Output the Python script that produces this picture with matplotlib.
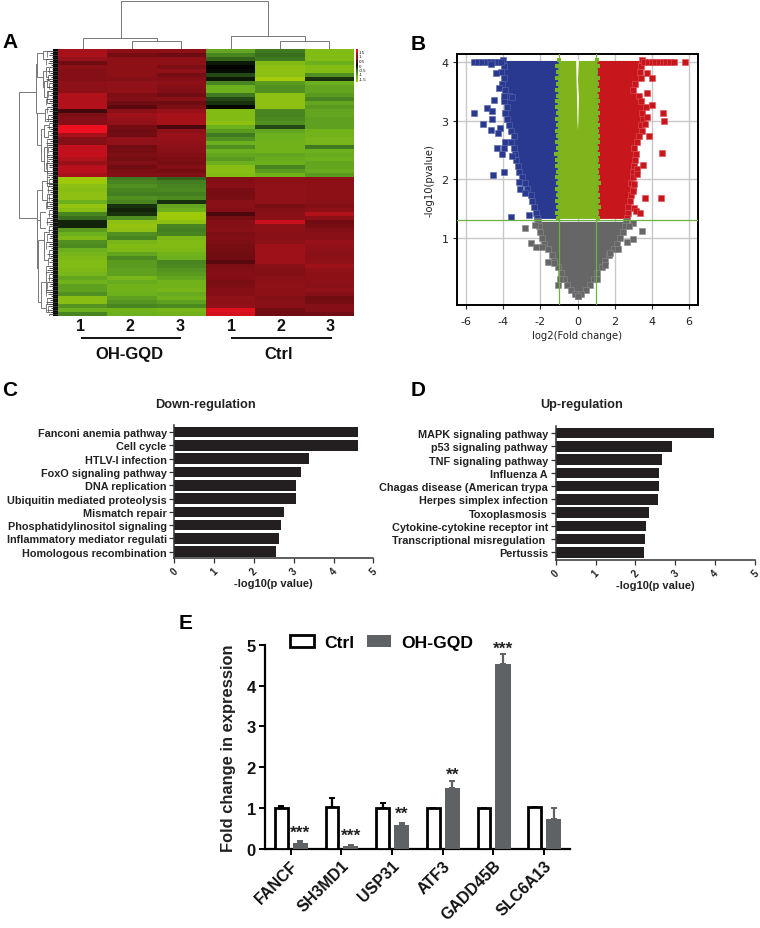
import numpy as np
import matplotlib
matplotlib.use('Agg')
import matplotlib.pyplot as plt
from matplotlib.colors import LinearSegmentedColormap
from matplotlib.patches import Patch

W, H = 760, 929
plt.rcParams['font.family'] = ['Liberation Sans', 'DejaVu Sans']

# heatmap, one row per band, columns OH-GQD 1-3 then Ctrl 1-3
heat_rows = [
    [1.1, 0.9, 0.9, -0.9, -0.5, -1.2], [1.1, 0.6, 0.5, -0.6, -0.45, -1.2],
    [1.0, 0.9, 0.9, -0.4, -0.5, -1.2], [0.5, 0.9, 0.9, -0.1, -1.2, -1.0],
    [0.9, 0.9, 0.7, -0.02, -1.3, -1.2], [0.8, 0.9, 0.95, -0.05, -1.3, -1.2],
    [0.8, 0.9, 0.6, -0.3, -1.3, -0.7], [0.8, 0.8, 0.8, -0.1, -1.5, -0.2],
    [0.9, 0.95, 0.9, -0.6, -0.8, -1.0], [0.9, 0.95, 0.8, -1.0, -0.7, -0.9],
    [0.9, 0.95, 0.75, -1.0, -0.7, -0.9], [1.15, 0.7, 0.55, -0.5, -1.3, -0.8],
    [1.15, 0.8, 0.85, -0.3, -1.3, -0.6], [1.15, 0.55, 0.5, -0.2, -1.3, -0.9],
    [1.15, 0.4, 0.7, -0.03, -1.3, -0.8], [0.3, 0.9, 1.0, -1.2, -0.6, -0.9],
    [0.7, 1.05, 1.1, -1.2, -0.6, -0.9], [0.8, 1.0, 1.1, -1.2, -0.65, -0.85],
    [0.8, 0.95, 1.1, -1.3, -0.7, -0.85], [1.5, 0.6, 0.35, -1.0, -0.3, -0.85],
    [1.5, 0.5, 0.9, -0.8, -0.9, -1.05], [1.1, 0.55, 1.0, -0.5, -1.0, -1.05],
    [0.8, 0.95, 1.0, -0.7, -1.0, -1.1], [0.8, 0.95, 0.95, -1.0, -1.05, -1.1],
    [1.25, 0.55, 0.9, -0.7, -1.05, -0.5], [1.25, 0.6, 0.85, -1.0, -1.05, -1.0],
    [1.25, 0.7, 0.75, -0.9, -0.9, -0.95], [1.15, 0.6, 0.7, -0.8, -0.95, -1.0],
    [1.0, 0.75, 0.65, -1.0, -1.0, -0.9], [1.2, 0.55, 0.8, -1.25, -0.6, -0.9],
    [1.2, 0.7, 0.6, -1.25, -0.8, -0.95], [1.1, 0.75, 0.75, -1.2, -1.05, -0.8],
    [-1.45, -0.5, -0.4, 0.75, 0.9, 0.9], [-1.45, -0.6, -0.55, 0.8, 0.9, 0.9],
    [-1.3, -0.7, -0.6, 0.85, 0.95, 0.9], [-1.25, -0.6, -0.65, 0.65, 0.95, 0.9],
    [-1.3, -0.55, -0.55, 0.6, 0.95, 0.9], [-1.3, -0.7, -0.65, 0.65, 0.95, 0.9],
    [-1.0, -0.6, -0.2, 0.85, 0.95, 0.85], [-1.35, -0.2, -0.9, 0.85, 0.65, 0.75],
    [-1.25, -0.15, -1.0, 0.8, 0.8, 0.9], [-0.6, -0.2, -1.45, 0.35, 0.85, 1.15],
    [-0.45, -0.7, -1.45, 0.6, 0.9, 0.9], [-0.15, -1.3, -1.3, 0.8, 1.3, 0.55],
    [-0.15, -1.35, -0.6, 0.8, 0.9, 0.65], [-0.8, -1.3, -0.55, 0.85, 0.9, 0.8],
    [-1.0, -0.7, -0.6, 0.7, 0.85, 0.85], [-1.15, -0.6, -1.15, 0.75, 0.85, 0.85],
    [-0.7, -1.1, -1.2, 0.7, 0.9, 1.0], [-0.65, -1.2, -1.2, 0.6, 1.05, 0.95],
    [-1.0, -1.15, -1.15, 0.6, 1.05, 0.9], [-1.1, -0.9, -1.05, 0.55, 1.05, 0.85],
    [-1.15, -0.65, -1.0, 0.55, 1.05, 0.9], [-1.2, -0.8, -0.6, 0.4, 1.05, 0.95],
    [-1.2, -0.8, -0.65, 0.7, 0.85, 1.05], [-1.15, -0.85, -0.75, 0.75, 0.8, 0.95],
    [-1.1, -0.85, -0.8, 0.8, 0.75, 0.9], [-0.9, -1.1, -0.9, 0.75, 0.85, 0.9],
    [-1.05, -0.95, -1.05, 0.65, 0.9, 0.9], [-0.85, -1.05, -1.05, 0.7, 0.95, 0.85],
    [-0.85, -1.05, -1.1, 0.8, 0.9, 0.95], [-0.7, -1.0, -0.95, 0.8, 0.9, 0.8],
    [-1.25, -0.85, -1.05, 0.95, 0.8, 0.55], [-1.25, -0.75, -0.85, 0.9, 0.85, 0.6],
    [-0.75, -0.6, -0.65, 0.95, 0.85, 0.8], [-1.0, -1.05, -1.1, 1.4, 0.55, 0.8],
    [-0.6, -1.0, -1.05, 1.35, 0.5, 0.55],
]
heat_scale = [1.5, 1, 0.5, 0, -0.5, -1, -1.5]

# dendrograms: (pos a, pos b, height, height of a, height of b)
top_merges = [
    (1.5, 2.5, 8.3, 0, 0), (0.5, 2.0, 11, 0, 8.3),
    (4.5, 5.5, 8.3, 0, 0), (3.5, 5.0, 12.7, 0, 8.3),
    (1.27, 4.26, 48, 11, 12.7),
]
left_merges = [
    (10.7, 42.5, 38.7, 22.3, 21.3), (3.8, 16, 22.3, 21, 21.5), (1.0, 7.0, 21, 15, 15),
    (0.5, 2.5, 15, 11, 11), (5.5, 9.5, 15, 12, 14), (4.5, 7, 12, 10, 10), (8, 12, 14, 11, 11),
    (7.8, 9.5, 11, 9, 9), (10.5, 13.5, 11, 9, 9), (16, 24, 21.5, 13, 17), (15, 18, 13, 10, 10),
    (20, 28, 17, 14, 14), (19, 22, 14, 10, 10), (24.5, 30.5, 14, 11, 11), (24, 27, 11, 9, 9),
    (28, 31, 11, 9, 9), (35.5, 48, 21.3, 16, 21), (33, 38, 16, 11, 11), (32, 34.5, 11, 9, 9),
    (36.5, 40, 11, 9, 9), (43, 55, 21, 18, 20), (41, 45, 18, 13, 13), (48, 63.5, 20, 14, 17),
    (46, 53, 14, 10, 10), (58.5, 65, 17, 12, 12), (56, 61, 12, 9, 9), (64, 66, 12, 9, 9),
]
leaf_heights = [11, 9, 12, 10, 9, 11, 10, 12, 9, 11, 10, 9, 12, 10, 11, 9, 10, 12, 9, 11, 10, 9, 11, 12, 10, 9, 11, 10, 12, 9, 11, 10,
                9, 12, 10, 11, 9, 10, 12, 11, 9, 10, 11, 12, 9, 10, 11, 9, 12, 10, 9, 11, 10, 9, 12, 11, 9, 10, 11, 9, 12, 10, 11, 12, 10, 11, 9]

# volcano: outline of the dense clouds and the stray points
cloud_y = [4.03, 3.93, 3.83, 3.73, 3.63, 3.53, 3.43, 3.33, 3.23, 3.13, 3.03, 2.93, 2.83, 2.73,
           2.63, 2.53, 2.43, 2.33, 2.23, 2.13, 2.03, 1.93, 1.83, 1.73, 1.63, 1.53, 1.43, 1.33]
blue_left = [-4.0, -3.95, -4.1, -3.95, -4.05, -3.9, -3.7, -3.95, -3.8, -3.9, -3.8, -3.7, -3.6, -3.45,
             -3.6, -3.4, -3.35, -3.3, -3.2, -3.15, -3.0, -2.85, -2.75, -2.5, -2.45, -2.35, -2.25, -2.2]
red_right = [3.5, 3.4, 3.35, 3.45, 3.1, 3.0, 3.3, 3.4, 3.7, 3.5, 3.55, 3.4, 3.5, 3.3,
             3.2, 3.05, 3.15, 3.1, 3.05, 3.0, 3.0, 2.9, 3.0, 2.9, 2.85, 2.75, 2.7, 2.65]
green_left = [-1.02, -1.08, -1.03, -1.1, -1.04, -1.1, -1.03, -1.08, -1.12, -1.04, -1.1, -1.05, -1.12, -1.06,
              -1.1, -1.05, -1.14, -1.08, -1.13, -1.05, -1.1, -1.06, -1.12, -1.07, -1.1, -1.05, -1.1, -1.06]
green_right = [1.03, 1.08, 1.02, 1.1, 1.05, 1.08, 1.03, 1.1, 1.06, 1.12, 1.04, 1.1, 1.05, 1.12,
               1.08, 1.04, 1.1, 1.06, 1.12, 1.05, 1.1, 1.14, 1.06, 1.12, 1.08, 1.14, 1.06, 1.12]
grey_y = [1.28, 1.2, 1.1, 1.0, 0.9, 0.8, 0.7, 0.6, 0.5, 0.4, 0.3, 0.2, 0.1, 0.03, 0.0]
grey_left = [-2.15, -2.1, -2.0, -1.9, -1.8, -1.6, -1.4, -1.25, -1.05, -0.9, -0.75, -0.55, -0.35, -0.15, 0.0]
grey_right = [2.6, 2.55, 2.45, 2.3, 2.15, 1.95, 1.7, 1.5, 1.3, 1.05, 0.9, 0.7, 0.45, 0.2, 0.0]
gap_y = [4.05, 3.7, 3.4, 3.0, 2.85]
gap_left = [-0.1, -0.08, -0.05, -0.03, 0.0]
gap_right = [0.05, 0.0, 0.05, 0.02, 0.0]
blue_x_pts = [-5.57, -5.39, -5.15, -4.9, -4.7, -4.5, -4.3, -4.1, -4.67, -4.38, -4.25, -4.49, -5.58, -4.88, -4.6, -4.6,
              -5.08, -4.65, -4.17, -4.29, -3.93, -4.34, -3.95, -4.06, -3.55, -4.54, -3.95, -3.16, -3.09, -2.82, -3.59,
              -2.59, -3.99, -3.54]
blue_y_pts = [4.0, 4.0, 4.0, 4.0, 4.0, 4.0, 4.0, 4.0, 3.97, 3.81, 3.56, 3.36, 3.14, 3.21, 3.16, 3.03,
              2.94, 2.84, 2.87, 2.79, 2.64, 2.53, 2.53, 2.43, 2.40, 2.07, 2.12, 1.96, 1.84, 1.77, 1.35,
              1.39, 3.43, 3.40]
red_x_pts = [3.6, 3.8, 4.0, 4.2, 4.4, 4.6, 4.8, 5.0, 5.2, 5.82, 3.73, 4.04, 3.73, 4.04, 4.6, 3.73, 4.65, 3.64, 3.88,
             4.54, 3.52, 3.23, 3.2, 3.07, 2.98, 3.64, 4.49, 3.07, 3.16, 3.39]
red_y_pts = [4.0, 4.0, 4.0, 4.0, 4.0, 4.0, 4.0, 4.0, 4.0, 4.0, 3.81, 3.73, 3.47, 3.27, 3.14, 3.06, 3.0, 2.95, 2.74,
             2.45, 2.25, 2.18, 2.09, 1.91, 1.79, 1.68, 1.68, 1.51, 1.46, 1.43]
grey_x_pts = [-2.82, -2.3, -2.51, -2.23, -1.92, -1.6, -1.29, 3.46, 3.02, 2.78, 2.98, 2.66, 2.2, 1.76, 1.49, -1.06, -0.97, 1.04]
grey_y_pts = [1.16, 1.21, 0.91, 0.84, 0.84, 0.58, 0.56, 1.11, 1.25, 1.2, 0.97, 0.92, 0.81, 0.74, 0.53, 0.2, 0.3, 0.3]

# pathway enrichment
down_terms = ['Fanconi anemia pathway', 'Cell cycle', 'HTLV-I infection', 'FoxO signaling pathway', 'DNA replication',
              'Ubiquitin mediated proteolysis', 'Mismatch repair', 'Phosphatidylinositol signaling',
              'Inflammatory mediator regulati', 'Homologous recombination']
down_vals = [4.62, 4.61, 3.39, 3.19, 3.07, 3.05, 2.76, 2.67, 2.62, 2.55]
up_terms = ['MAPK signaling pathway', 'p53 signaling pathway', 'TNF signaling pathway', 'Influenza A',
            'Chagas disease (American trypa', 'Herpes simplex infection', 'Toxoplasmosis',
            'Cytokine-cytokine receptor int', 'Transcriptional misregulation ', 'Pertussis']
up_vals = [3.96, 2.93, 2.66, 2.60, 2.58, 2.575, 2.34, 2.26, 2.23, 2.21]

# qPCR
genes = ['FANCF', 'SH3MD1', 'USP31', 'ATF3', 'GADD45B', 'SLC6A13']
ctrl_vals = [1.0, 1.02, 1.0, 1.0, 1.0, 1.02]
ctrl_err = [0.04, 0.23, 0.12, 0.0, 0.0, 0.0]
gqd_vals = [0.15, 0.07, 0.58, 1.5, 4.53, 0.72]
gqd_err = [0.03, 0.01, 0.06, 0.17, 0.24, 0.28]
stars = ['***', '***', '**', '**', '***', '']
star_y = [0.3, 0.23, 0.75, 1.72, 4.82, 0]


def axes_px(x0, y0, x1, y1):
    return fig.add_axes([x0 / W, 1 - y1 / H, (x1 - x0) / W, (y1 - y0) / H])


def text_px(x, y, s, **kw):
    kw.setdefault('ha', 'center')
    kw.setdefault('va', 'center')
    kw.setdefault('fontweight', 'bold')
    kw.setdefault('color', '#111111')
    fig.text(x / W, 1 - y / H, s, **kw)


def draw_merges(ax, merges, flip=False):
    for a, b, h, ha, hb in merges:
        xs, ys = [a, a, b, b], [ha, h, h, hb]
        if flip:
            xs, ys = ys, xs
        ax.plot(xs, ys, color='#777777', lw=0.7, solid_joinstyle='miter')


def pathway_panel(box, terms, vals, title, title_x, row_bottom):
    ax = axes_px(*box)
    ax.barh(range(len(vals)), vals, height=0.79, color='#231f20')
    ax.set_xlim(0, 5)
    ax.set_ylim(row_bottom, -0.53)
    ax.set_yticks(range(len(terms)))
    ax.set_yticklabels(terms, fontsize=7.8, fontweight='bold', color='#222222')
    ax.set_xticks(range(6))
    ax.set_xticklabels(range(6), rotation=45, fontsize=7, fontweight='bold', color='#222222')
    ax.set_xlabel('-log10(p value)', fontsize=8, fontweight='bold', color='#222222', labelpad=1)
    ax.tick_params(length=3.5, width=0.9, pad=2, color='#333333')
    for s in ['top', 'right']:
        ax.spines[s].set_visible(False)
    for s in ['left', 'bottom']:
        ax.spines[s].set_linewidth(1.1)
        ax.spines[s].set_color('#333333')
    text_px(title_x, 405.5, title, fontsize=9.2, color='#222222')
    return ax


fig = plt.figure(figsize=(W / 100, H / 100), dpi=100)

# A
heat_cmap = LinearSegmentedColormap.from_list('heat', [
    (0.0, '#a4cc0a'), (1 / 6, '#6cb01e'), (2 / 6, '#3f7a22'), (0.5, '#000000'),
    (4 / 6, '#6e0c12'), (5 / 6, '#951219'), (1.0, '#ee1020')])
ax = axes_px(58, 50, 354, 317)
ax.imshow(np.array(heat_rows), cmap=heat_cmap, vmin=-1.5, vmax=1.5, aspect='auto', interpolation='nearest')
ax.axis('off')

ax = axes_px(58, 2, 354, 50)
draw_merges(ax, top_merges)
ax.set_xlim(0, 6)
ax.set_ylim(0, 48)
ax.axis('off')

ax = axes_px(15, 50, 58, 317)
draw_merges(ax, left_merges, flip=True)
rows = np.arange(len(leaf_heights)) + 0.5
ax.hlines(rows, 0, leaf_heights, color='#444444', lw=0.6)
ax.hlines(rows + 0.5, 0, np.array(leaf_heights) - 3, color='#222222', lw=0.6)
ax.vlines(leaf_heights[::2], rows[::2], rows[::2] + 1.6, color='#555555', lw=0.5)
ax.axvspan(0, 5, color='black', lw=0)
ax.set_xlim(43, 0)
ax.set_ylim(len(leaf_heights), 0)
ax.axis('off')

ax = axes_px(355.7, 50, 357.7, 83)
ax.imshow(np.linspace(1.5, -1.5, 64).reshape(-1, 1), cmap=heat_cmap, aspect='auto', vmin=-1.5, vmax=1.5)
ax.axis('off')
for i, v in enumerate(heat_scale):
    text_px(359, 53 + i * 4.5, str(v), fontsize=3.2, ha='left', fontweight='normal')

for cx, lab in zip([80.5, 130, 180, 231.5, 281, 330], ['1', '2', '3', '1', '2', '3']):
    text_px(cx, 327, lab, fontsize=11.5)
for x0, x1, cx, lab in [(81.7, 180, 129, 'OH-GQD'), (232, 330.7, 279, 'Ctrl')]:
    fig.add_artist(plt.Line2D([x0 / W, x1 / W], [1 - 338.7 / H] * 2, color='#111111', lw=1.4))
    text_px(cx, 354.5, lab, fontsize=12)

# B
ax = axes_px(457, 55, 698, 306)
ax.set_xlim(-6.5, 6.5)
ax.set_ylim(-0.15, 4.14)
ax.grid(color='#c8c8c8', lw=1)
ax.set_axisbelow(True)
blue, green, red, grey = '#2a3990', '#7fb51a', '#c8161d', '#666666'
ax.fill_betweenx(cloud_y, blue_left, -1, color=blue, lw=0, zorder=2)
ax.fill_betweenx(cloud_y, 1, red_right, color=red, lw=0, zorder=2)
ax.fill_betweenx(grey_y, grey_left, grey_right, color=grey, lw=0, zorder=2)
ax.scatter(blue_left, cloud_y, s=16, marker='s', color=blue, edgecolors='#5a66aa', lw=0.4, zorder=3)
ax.scatter(red_right, cloud_y, s=16, marker='s', color=red, edgecolors='#dd5058', lw=0.4, zorder=3)
ax.scatter(grey_left, grey_y, s=14, marker='s', color=grey, edgecolors='#8a8a8a', lw=0.4, zorder=3)
ax.scatter(grey_right, grey_y, s=14, marker='s', color=grey, edgecolors='#8a8a8a', lw=0.4, zorder=3)
ax.fill_betweenx(cloud_y, green_left, green_right, color=green, lw=0, zorder=3)
ax.scatter(green_left, cloud_y, s=12, marker='s', color=green, lw=0, zorder=3)
ax.scatter(green_right, cloud_y, s=12, marker='s', color=green, lw=0, zorder=3)
ax.fill_betweenx(gap_y, gap_left, gap_right, color='white', lw=0, zorder=4)
ax.scatter(blue_x_pts, blue_y_pts, s=16, marker='s', color=blue, edgecolors='#5a66aa', lw=0.4, zorder=3)
ax.scatter(red_x_pts, red_y_pts, s=16, marker='s', color=red, edgecolors='#dd5058', lw=0.4, zorder=3)
ax.scatter(grey_x_pts, grey_y_pts, s=14, marker='s', color=grey, edgecolors='#8a8a8a', lw=0.4, zorder=3)
ax.axhline(1.3, color='#6db33f', lw=0.9, zorder=5)
ax.axvline(-1, color='#6db33f', lw=0.9, zorder=5)
ax.axvline(1, color='#6db33f', lw=0.9, zorder=5)
ax.set_xticks([-6, -4, -2, 0, 2, 4, 6])
ax.set_xticklabels(['-6', '-4', '-2', '0', '2', '4', '6'], family='DejaVu Sans')
ax.set_yticks([1, 2, 3, 4])
ax.set_yticklabels(['1', '2', '3', '4'], family='DejaVu Sans')
ax.tick_params(labelsize=8, length=3, width=0.8, color='#222222', labelcolor='#222222')
ax.tick_params(axis='x', pad=5)
ax.tick_params(axis='y', pad=3)
ax.set_xlabel('log2(Fold change)', fontsize=7.2, family='DejaVu Sans', color='#222222', labelpad=3)
ax.set_ylabel('-log10(pvalue)', fontsize=7.2, family='DejaVu Sans', color='#222222', labelpad=5)
for s in ax.spines.values():
    s.set_linewidth(1.4)

# C, D
pathway_panel((174.3, 426, 373.3, 559), down_terms, down_vals, 'Down-regulation', 205, 9.47)
pathway_panel((555.7, 427, 755, 561), up_terms, up_vals, 'Up-regulation', 582, 9.57)

# E
ax = axes_px(265, 646, 570, 849.7)
xpos = np.arange(len(genes))
off, bw = 0.187, 0.25
ax.bar(xpos - off, ctrl_vals, bw, color='white', edgecolor='black', lw=2.0, zorder=3)
ax.bar(xpos + off, gqd_vals, bw + 0.05, color='#5f6264', zorder=3)
ax.errorbar(xpos - off, ctrl_vals, yerr=[np.zeros(6), ctrl_err], fmt='none', ecolor='black', elinewidth=1.6, capsize=2.5, capthick=1.4, zorder=2)
ax.errorbar(xpos + off, gqd_vals, yerr=[np.zeros(6), gqd_err], fmt='none', ecolor='#5f6264', elinewidth=1.6, capsize=2.5, capthick=1.4, zorder=2)
for x, y, s in zip(xpos + off, star_y, stars):
    ax.text(x, y, s, ha='center', va='baseline', fontsize=12.5, fontweight='bold', color='#222222', clip_on=False)
ax.set_xlim(-0.507, 5.51)
ax.set_ylim(0, 5)
ax.set_xticks(xpos)
ax.set_xticklabels(genes, rotation=45, ha='right', rotation_mode='anchor', fontsize=11.5, fontweight='bold', color='#111111')
ax.set_yticks(range(6))
ax.set_yticklabels(range(6), fontsize=12, fontweight='bold', color='#111111')
ax.set_ylabel('Fold change in expression', fontsize=11.9, fontweight='bold', color='#222222', labelpad=8)
ax.tick_params(length=4.5, width=1.4, pad=2)
for s in ['top', 'right']:
    ax.spines[s].set_visible(False)
for s in ['left', 'bottom']:
    ax.spines[s].set_linewidth(1.6)
handles = [Patch(facecolor='white', edgecolor='black', lw=2, label='Ctrl'), Patch(facecolor='#5f6264', label='OH-GQD')]
ax.legend(handles=handles, ncol=2, loc='center left', bbox_to_anchor=(0.082, 1.012), frameon=False, borderpad=0,
          borderaxespad=0, handlelength=1.35, handleheight=0.63, handletextpad=0.63, columnspacing=0.7,
          prop={'size': 12.6, 'weight': 'bold'})

# panel letters
for x, y, lab in [(10, 43, 'A'), (418, 45, 'B'), (10, 390, 'C'), (418, 390, 'D'), (186, 624, 'E')]:
    text_px(x, y, lab, fontsize=15, color='black')

fig.savefig('out.png', dpi=100)
